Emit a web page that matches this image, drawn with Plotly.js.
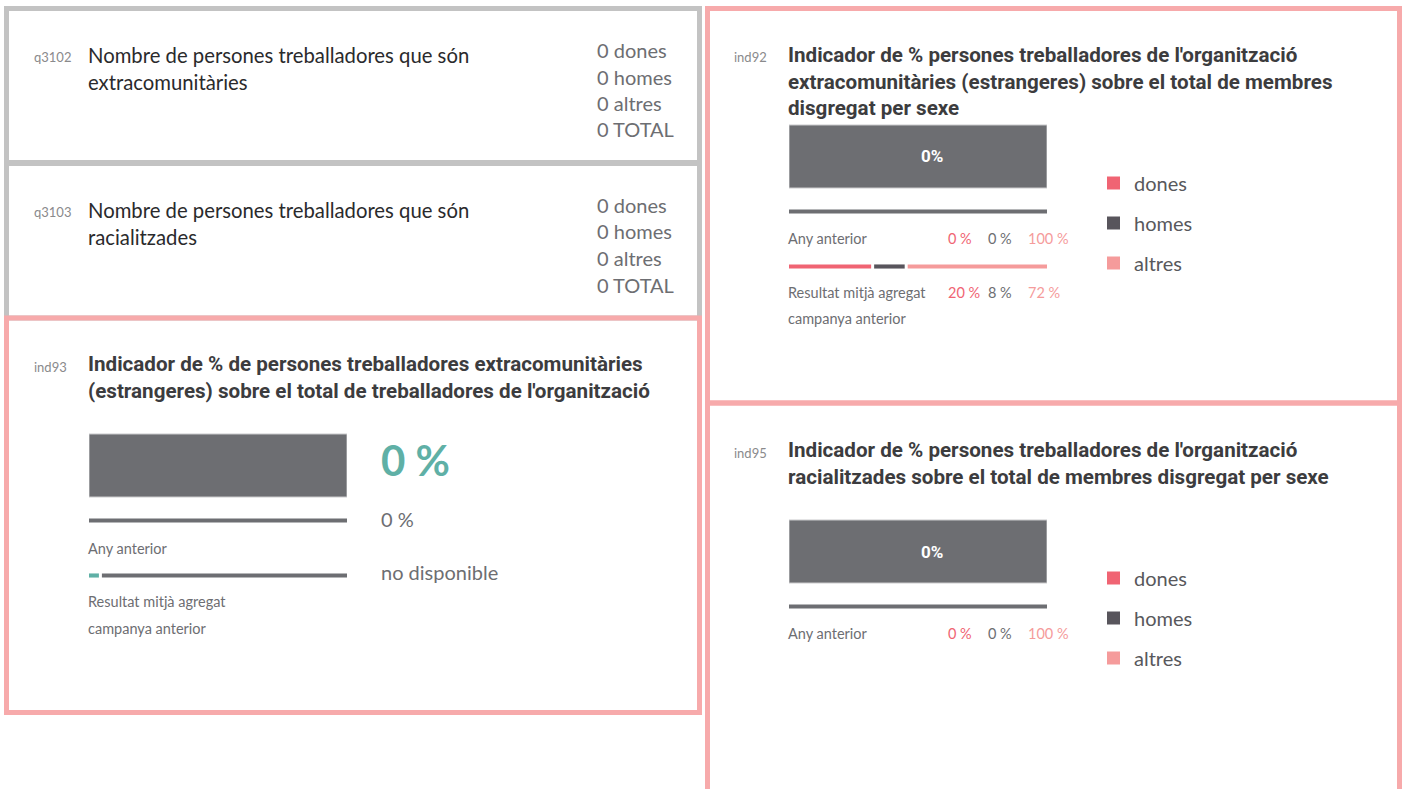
<!DOCTYPE html>
<html>
<head>
<meta charset="utf-8">
<script src="https://cdn.plot.ly/plotly-3.0.1.min.js"></script>
<style>html,body{margin:0;padding:0;background:#fff;}#chart{width:1404px;height:789px;}</style>
</head>
<body>
<div id="chart"></div>
<script>
// ---------- DATA ----------
const groups = ['dones', 'homes', 'altres'];
const countLabels = ['dones', 'homes', 'altres', 'TOTAL'];
const q3102Counts = [0, 0, 0, 0];
const q3103Counts = [0, 0, 0, 0];
const q3102Title = ['Nombre de persones treballadores que són', 'extracomunitàries'];
const q3103Title = ['Nombre de persones treballadores que són', 'racialitzades'];

const ind93Title = ["Indicador de % de persones treballadores extracomunitàries", "(estrangeres) sobre el total de treballadores de l'organització"];
const ind93Current = 0;          // %
const ind93Prev = 0;             // %
const ind93AggBar = 5;           // teal share drawn on the aggregate line
const ind93AggLabel = 'no disponible';

const ind92Title = ["Indicador de % persones treballadores de l'organització", "extracomunitàries (estrangeres) sobre el total de membres", "disgregat per sexe"];
const ind92CurrentLabel = '0%';
const ind92Prev = [0, 0, 100];
const ind92Agg = [20, 8, 72];
const ind92AggBar = [33, 13, 54]; // segment lengths as drawn

const ind95Title = ["Indicador de % persones treballadores de l'organització", "racialitzades sobre el total de membres disgregat per sexe"];
const ind95CurrentLabel = '0%';
const ind95Prev = [0, 0, 100];

const rowCats = ['agg', 'prev', 'cur'];
const rowLabels = { prev: 'Any anterior', agg1: 'Resultat mitjà agregat', agg2: 'campanya anterior' };

// ---------- STYLE ----------
const W = 1404, H = 789;
const X = p => p / W;
const Y = p => 1 - p / H;
const GREY_BAR = '#6d6e72';
const TEAL = '#5fb0a6';
const groupColors = ['#f06473', '#58555c', '#f59b9b'];
const labelColors = ['#f06473', '#6d6e72', '#f59b9b'];
const TXT = '#6d6e72';
const TITLE = '#3c3c3e';
const FONT = 'Lato, "Open Sans", sans-serif';
const BOLD_FONT = 'Roboto, Lato, sans-serif';
const TITLE_SIZE = 20.6;
const BIG_W = 1.145, LINE_W = 0.075;
const GAP = 1.16;

const traces = [];
const annotations = [];
const shapes = [];

function txt(x, y, text, size, color, opts) {
  opts = opts || {};
  annotations.push({
    xref: 'paper', yref: 'paper',
    x: X(x), y: Y(y),
    text: text, showarrow: false,
    xanchor: 'left', yanchor: 'middle',
    borderpad: 0, borderwidth: 0,
    font: { family: opts.family || FONT, size: size, color: color }
  });
}

// ---------- BOXES ----------
function box(x0, y0, x1, y1, col) {
  shapes.push({ type: 'rect', xref: 'paper', yref: 'paper', x0: X(x0), x1: X(x1), y0: Y(y1), y1: Y(y0),
    line: { color: col, width: 5 }, fillcolor: 'rgba(0,0,0,0)', layer: 'below' });
}
const GREY_BOX = '#c3c3c3', PINK_BOX = '#f7aaab';
box(6.5, 8.5, 699.5, 162.5, GREY_BOX);
box(6.5, 163.5, 699.5, 318, GREY_BOX);
box(6.5, 318, 699.5, 712.5, PINK_BOX);
box(707.5, 8.5, 1399.5, 403, PINK_BOX);
box(707.5, 403, 1399.5, 820, PINK_BOX);

// ---------- COUNT BOXES ----------
function countBox(code, title, counts, yTop) {
  txt(34, yTop + 2, code, 13, '#8a8a8c');
  title.forEach((t, i) => txt(88, yTop + i * 26.5, t, 20.3, '#2a2a2c'));
  counts.forEach((c, i) => txt(597, yTop - 5 + i * 26.5, c + ' ' + countLabels[i], 20, TXT));
}
countBox('q3102', q3102Title, q3102Counts, 55);
countBox('q3103', q3103Title, q3103Counts, 210);

// ---------- AXES ----------
const layoutAxes = {};
function axes(idx, px0, px1, yCur) {
  // yCur: pixel centre of the current row; 55 px per row; range [-0.5, 3]
  const top = yCur - 55, bottom = yCur + 27.5 + 110;
  const sfx = idx === 1 ? '' : idx;
  layoutAxes['xaxis' + sfx] = { domain: [X(px0), X(px1)], range: [0, 100], visible: false, fixedrange: true, anchor: 'y' + sfx };
  layoutAxes['yaxis' + sfx] = { domain: [Y(bottom), Y(top)], range: [-0.5, 3], type: 'category', categoryarray: rowCats,
    categoryorder: 'array', visible: false, fixedrange: true, anchor: 'x' + sfx };
  return { x: 'x' + sfx, y: 'y' + sfx };
}

function bar(ax, row, len, base, color, width, line) {
  traces.push({
    type: 'bar', orientation: 'h', xaxis: ax.x, yaxis: ax.y,
    x: [len], y: [row], base: [base], width: [width],
    marker: { color: color, line: line || { width: 0 } },
    hoverinfo: 'skip', showlegend: false
  });
}

function segments(ax, row, shares, colors) {
  let cum = 0;
  shares.forEach((s, i) => {
    const last = i === shares.length - 1;
    if (s > 0) bar(ax, row, last ? s : s - GAP, cum, colors[i], LINE_W);
    cum += s;
  });
}

// ---------- ind93 ----------
const a93 = axes(1, 89, 347, 465.5);
bar(a93, 'cur', 100, 0, GREY_BAR, BIG_W, { color: '#c9c9cb', width: 1 });
bar(a93, 'prev', 100, 0, GREY_BAR, LINE_W);
segments(a93, 'agg', [ind93AggBar, 100 - ind93AggBar], [TEAL, GREY_BAR]);
txt(34, 367, 'ind93', 13, '#8a8a8c');
ind93Title.forEach((t, i) => txt(88, 364 + i * 27, '<b>' + t + '</b>', TITLE_SIZE, TITLE, { family: BOLD_FONT }));
txt(381, 460, '<b>' + ind93Current + ' %</b>', 42, TEAL);
txt(381, 519, ind93Prev + ' %', 20, TXT);
txt(381, 572, ind93AggLabel, 20, TXT);
txt(88, 548, rowLabels.prev, 14.5, TXT);
txt(88, 601, rowLabels.agg1, 14.5, TXT);
txt(88, 628, rowLabels.agg2, 14.5, TXT);

// ---------- ind92 ----------
const a92 = axes(2, 789, 1047, 156.5);
bar(a92, 'cur', 100, 0, GREY_BAR, BIG_W, { color: '#c9c9cb', width: 1 });
bar(a92, 'prev', 100, 0, GREY_BAR, LINE_W);
segments(a92, 'agg', ind92AggBar, groupColors);
annotations.push({ xref: a92.x, yref: a92.y, x: 50, y: 'cur', xshift: 14, text: '<b>' + ind92CurrentLabel + '</b>',
  showarrow: false, font: { family: BOLD_FONT, size: 17, color: '#ffffff' } });
txt(734, 57, 'ind92', 13, '#8a8a8c');
ind92Title.forEach((t, i) => txt(788, 55 + i * 26.5, '<b>' + t + '</b>', TITLE_SIZE, TITLE, { family: BOLD_FONT }));
txt(788, 238, rowLabels.prev, 14.5, TXT);
txt(788, 292, rowLabels.agg1, 14.5, TXT);
txt(788, 318, rowLabels.agg2, 14.5, TXT);
const valX = [948, 988, 1028];
ind92Prev.forEach((v, i) => txt(valX[i], 238, v + ' %', 14.5, labelColors[i]));
ind92Agg.forEach((v, i) => txt(valX[i], 292, v + ' %', 14.5, labelColors[i]));

// ---------- ind95 ----------
const a95 = axes(3, 789, 1047, 551.5);
bar(a95, 'cur', 100, 0, GREY_BAR, BIG_W, { color: '#c9c9cb', width: 1 });
bar(a95, 'prev', 100, 0, GREY_BAR, LINE_W);
annotations.push({ xref: a95.x, yref: a95.y, x: 50, y: 'cur', xshift: 14, text: '<b>' + ind95CurrentLabel + '</b>',
  showarrow: false, font: { family: BOLD_FONT, size: 17, color: '#ffffff' } });
txt(734, 453, 'ind95', 13, '#8a8a8c');
ind95Title.forEach((t, i) => txt(788, 450 + i * 26.5, '<b>' + t + '</b>', TITLE_SIZE, TITLE, { family: BOLD_FONT }));
txt(788, 633, rowLabels.prev, 14.5, TXT);
ind95Prev.forEach((v, i) => txt(valX[i], 633, v + ' %', 14.5, labelColors[i]));

// ---------- legends ----------
function legend(yFirst) {
  groups.forEach((g, i) => {
    const yc = yFirst + i * 40;
    shapes.push({ type: 'rect', xref: 'paper', yref: 'paper', x0: X(1107), x1: X(1120), y0: Y(yc + 6.5), y1: Y(yc - 6.5),
      line: { width: 0 }, fillcolor: groupColors[i] });
    txt(1134, yc, g, 20, '#58585c');
  });
}
legend(183);
legend(578);

const layout = Object.assign({
  width: W, height: H,
  margin: { l: 0, r: 0, t: 0, b: 0 },
  paper_bgcolor: '#ffffff', plot_bgcolor: 'rgba(0,0,0,0)',
  font: { family: FONT },
  barmode: 'overlay',
  showlegend: false,
  shapes: shapes,
  annotations: annotations
}, layoutAxes);

Plotly.newPlot('chart', traces, layout, { displayModeBar: false, staticPlot: true });
</script>
</body>
</html>
